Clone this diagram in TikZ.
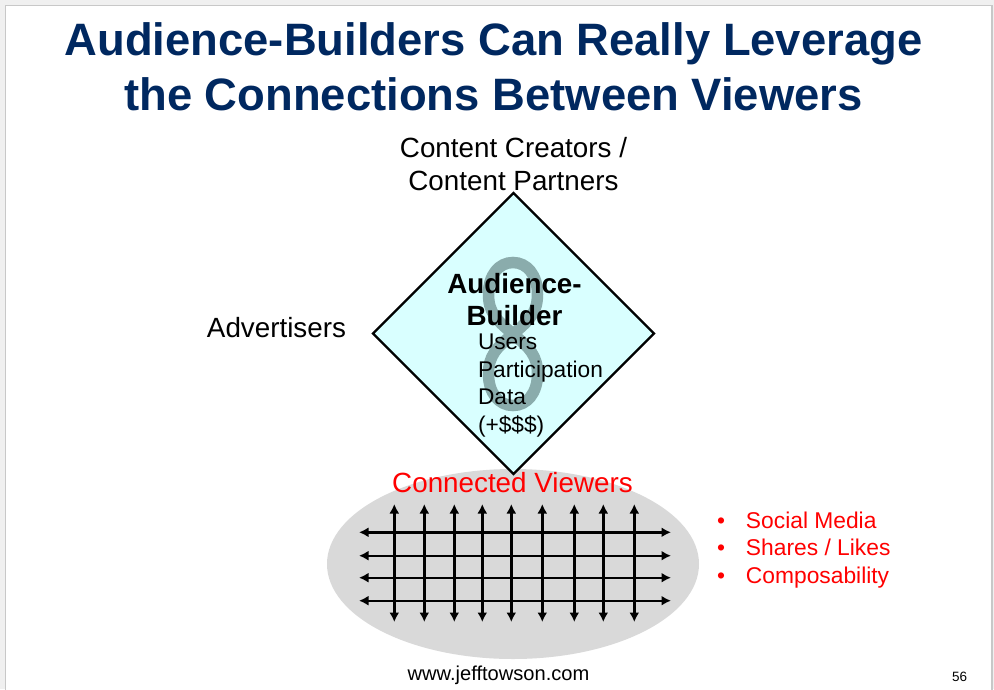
\documentclass[tikz,border=0pt]{standalone}
\usepackage{fontspec}
\setmainfont{Liberation Sans}
\usetikzlibrary{shapes.geometric, arrows.meta}
\definecolor{titleblue}{RGB}{0,40,96}
\definecolor{diamondfill}{RGB}{217,255,255}
\definecolor{loopgray}{RGB}{138,172,172}
\definecolor{ovalgray}{RGB}{217,217,217}
\definecolor{pagegray}{RGB}{240,240,240}
\definecolor{edgegray}{RGB}{200,200,200}
\begin{document}
\begin{tikzpicture}[x=1pt, y=-1pt, inner sep=0pt, outer sep=0pt,
	title/.style={anchor=base, align=center, text=titleblue, font=\fontsize{45.4}{55}\selectfont\bfseries},
	label/.style={anchor=base, align=center, font=\fontsize{27.8}{33}\selectfont},
	small/.style={anchor=base west, align=left, font=\fontsize{22.7}{27.4}\selectfont},
	grid arrow/.style={{Latex[length=9.5pt,width=10pt]}-{Latex[length=9.5pt,width=10pt]}, line width=2.4pt}]
	\clip (0,0) rectangle (994,689);
	\fill[pagegray] (0,0) rectangle (994,689);
	\draw[edgegray, line width=1.5pt, fill=white] (5.5,5.5) rectangle (992,720);

	\node[title](headline) at (493.5,110) {Audience-Builders Can Really Leverage\\the Connections Between Viewers};
	\node[label](creators) at (513.5,190) {Content Creators /\\Content Partners};
	\node[label](advertisers) at (276.5,337) {Advertisers};

	\node[fill=ovalgray, ellipse, minimum width=372pt, minimum height=190pt](viewers) at (513,564) {};
	\node[draw, line width=2.2pt, fill=diamondfill, diamond, aspect=1, minimum width=281pt, minimum height=281pt](builder) at (513.5,333.5) {};

	\draw[loopgray, line width=11.5pt] (513,334) .. controls (496,320) and (488.5,312) .. (488.5,294)
		.. controls (488.5,275) and (499,262.5) .. (513,262.5) .. controls (527,262.5) and (537.5,275) .. (537.5,294)
		.. controls (537.5,312) and (530,320) .. (513,334) .. controls (496,348) and (488.5,356) .. (488.5,374)
		.. controls (488.5,393) and (499,405.5) .. (513,405.5) .. controls (527,405.5) and (537.5,393) .. (537.5,374)
		.. controls (537.5,356) and (530,348) .. (513,334) -- cycle;

	\node[label, font=\fontsize{27.8}{32}\selectfont\bfseries](builder text) at (514.5,325) {Audience-\\Builder};
	\node[small](builder list) at (478,432) {Users\\Participation\\Data\\(+\$\$\$)};
	\node[label, text=red](viewers text) at (512.5,492) {Connected Viewers};

	\foreach \y [count=\i] in {532.3,555.7,577.7,600.7}{
		\coordinate (west\i) at (359,\y);
		\coordinate (east\i) at (671,\y);
		\draw[grid arrow] (west\i) -- (east\i);
	}
	\foreach \x [count=\i] in {394.3,424.3,454.3,482.3,511.3,542.3,574.3,603.3,634.3}{
		\coordinate (north\i) at (\x,504);
		\coordinate (south\i) at (\x,622);
		\draw[grid arrow] (north\i) -- (south\i);
	}

	\node[small, text=red, font=\fontsize{22.8}{27.4}\selectfont](bullets) at (717,583) {•\hspace{21pt}Social Media\\•\hspace{21pt}Shares / Likes\\•\hspace{21pt}Composability};
	\node[anchor=base, font=\fontsize{20.1}{24}\selectfont](website) at (498.5,680) {www.jefftowson.com};
	\node[anchor=base, font=\fontsize{13.5}{16}\selectfont](page number) at (959.5,681) {56};
\end{tikzpicture}
\end{document}
